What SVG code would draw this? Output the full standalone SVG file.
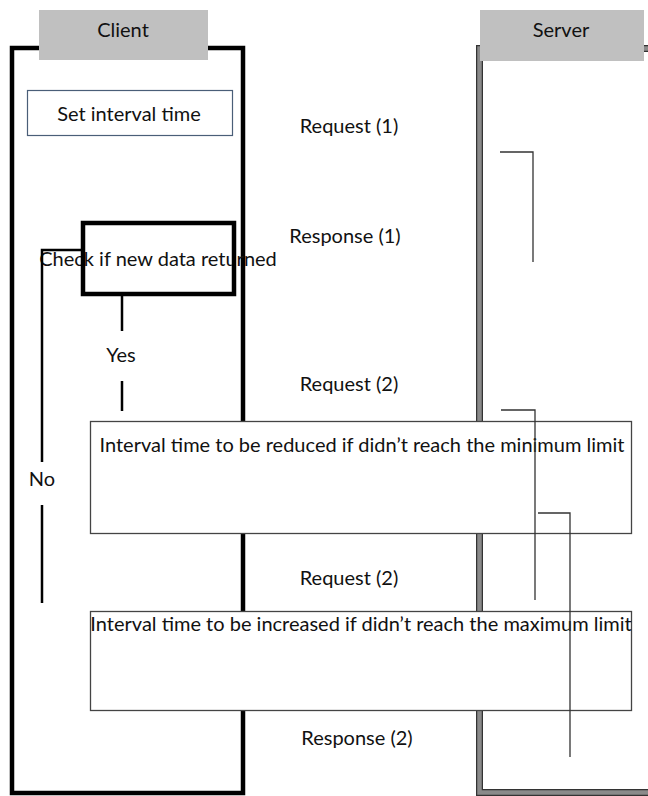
<svg xmlns="http://www.w3.org/2000/svg" width="648" height="796" viewBox="0 0 648 796">
<style>
text{font-family:Lato,"Liberation Sans",sans-serif;font-size:20px;fill:#111;}
.c{text-anchor:middle;}
.hdr{fill:#c0c0c0;stroke:none;}
.thin{fill:none;stroke:#333;stroke-width:1.3;}
.box{fill:#fff;stroke:#444;stroke-width:1.3;}
.flow{fill:none;stroke:#000;stroke-width:2.5;}
</style>
<rect width="648" height="796" fill="#fff"/>
<g id="client-lane">
<rect x="12" y="48" width="231" height="745" fill="none" stroke="#000" stroke-width="4.5"/>
<rect class="hdr" x="39" y="10" width="169" height="50"/>
<text class="c" x="123" y="37">Client</text>
</g>
<g id="server-lane">
<rect x="479.5" y="48.5" width="200" height="744" fill="none" stroke="#333" stroke-width="7"/>
<rect x="479.5" y="48.5" width="200" height="744" fill="none" stroke="#8a8a8a" stroke-width="4.5"/>
<rect class="hdr" x="480" y="10" width="164" height="51"/>
<text class="c" x="561" y="37">Server</text>
</g>
<g id="set-interval">
<rect x="27.5" y="90.5" width="205" height="45" fill="#fff" stroke="#4a5e78" stroke-width="1.2"/>
<text class="c" x="129" y="121">Set interval time</text>
</g>
<g id="check">
<text class="c" x="158" y="266">Check if new data returned</text>
<rect x="83" y="223" width="151" height="71" fill="none" stroke="#000" stroke-width="4.5"/>
</g>
<g id="reduce">
<rect class="box" x="90.5" y="421.5" width="541" height="112"/>
<text class="c" x="362" y="452">Interval time to be reduced if didn’t reach the minimum limit</text>
</g>
<g id="increase">
<rect class="box" x="90.5" y="611.5" width="541" height="99"/>
<text class="c" x="361" y="631">Interval time to be increased if didn’t reach the maximum limit</text>
</g>
<g id="labels">
<text class="c" x="349" y="133">Request (1)</text>
<text class="c" x="345" y="243">Response (1)</text>
<text class="c" x="349" y="391">Request (2)</text>
<text class="c" x="349" y="585">Request (2)</text>
<text class="c" x="357" y="745">Response (2)</text>
<text class="c" x="121" y="362">Yes</text>
<text class="c" x="42" y="486">No</text>
</g>
<g id="connectors">
<path class="flow" d="M122 295V331M122 381V411"/>
<path class="flow" d="M82 250H42V462M42 505V603"/>
<path class="thin" d="M500 152H533V262"/>
<path class="thin" d="M501 410H535V600"/>
<path class="thin" d="M538 513H570V757"/>
</g>
</svg>
